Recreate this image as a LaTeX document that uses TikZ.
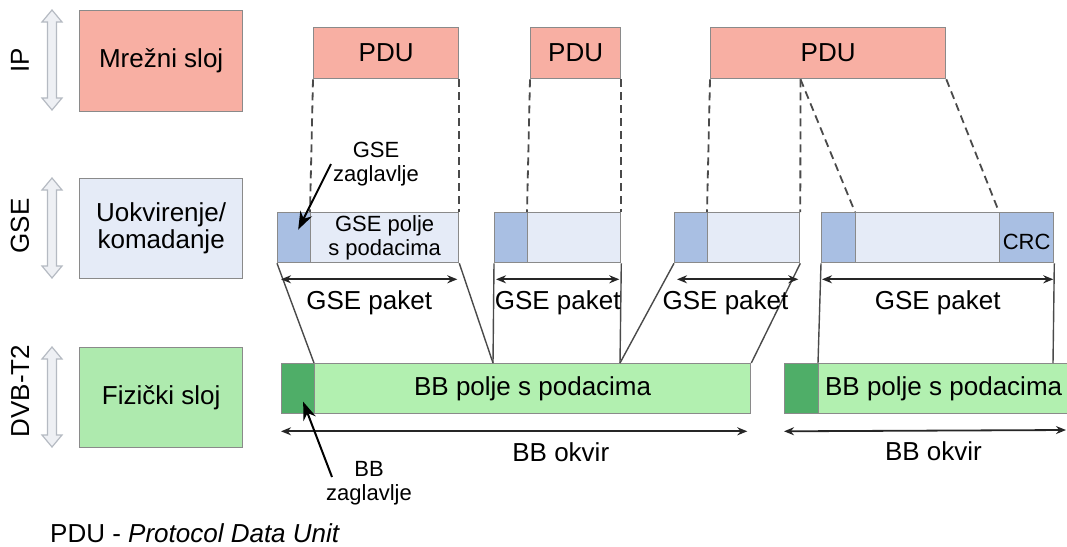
\documentclass[tikz,border=0pt]{standalone}
\usepackage{fontspec}
\setmainfont{Liberation Sans}
\usetikzlibrary{arrows.meta,calc}
\definecolor{edge}{HTML}{8A8A8A}
\definecolor{pduc}{HTML}{F8AFA3}
\definecolor{gsel}{HTML}{E5EBF7}
\definecolor{gseh}{HTML}{A9BFE3}
\definecolor{bbl}{HTML}{B2F0B0}
\definecolor{bbh}{HTML}{4FAE68}
\definecolor{dvbc}{HTML}{AEEAAE}
\definecolor{arrfill}{HTML}{EEF0F4}
\definecolor{arredge}{HTML}{B5BAC2}
\definecolor{link}{HTML}{4A4A4A}
\newcommand{\bigtxt}{\fontsize{26}{27}\selectfont}
\newcommand{\smalltxt}{\fontsize{22}{24}\selectfont}
\tikzset{
  blk/.style={draw=edge, line width=1.3pt, anchor=north west, inner sep=0pt, align=center, font=\bigtxt},
  hdr/.style={blk, fill=gseh, minimum height=50pt},
  fld/.style={blk, fill=gsel, minimum height=50pt, font=\smalltxt},
  bbhd/.style={blk, fill=bbh, minimum height=50pt},
  bbfld/.style={blk, fill=bbl, minimum height=50pt},
  cut/.style={draw=link, line width=1.8pt, dash pattern=on 8pt off 5pt},
  tie/.style={draw=link, line width=1.4pt},
  dim/.style={{Stealth[length=10pt,width=8pt]}-{Stealth[length=10pt,width=8pt]}, line width=1.8pt, draw=black!85},
  callout/.style={-{Stealth[length=18pt,width=13pt]}, line width=2pt},
  note/.style={font=\smalltxt, align=center, inner sep=0pt},
  lbl/.style={font=\bigtxt, inner sep=0pt},
  layarr/.style={draw=arredge, fill=arrfill, line width=1.2pt},
}
\begin{document}
\begin{tikzpicture}[x=1pt, y=-1pt]
  \useasboundingbox (0,0) rectangle (1067,546);
  \fill[white] (0,0) rectangle (1067,546);
  \clip (0,0) rectangle (1067,546);

  % layers on the left
  \foreach \yt/\yb/\ym/\lab in {10/110/60/IP, 178/278/226/GSE, 347/447/391/DVB-T2} {
    \draw[layarr] (52,\yt) -- (62,\yt+12) -- (56.5,\yt+12) -- (56.5,\yb-12) -- (62,\yb-12) -- (52,\yb)
      -- (42,\yb-12) -- (47.5,\yb-12) -- (47.5,\yt+12) -- (42,\yt+12) -- cycle;
    \node[lbl, rotate=90] (l\lab) at (20,\ym) {\lab};
  }
  \node[blk, fill=pduc, minimum width=163pt, minimum height=101pt] (ip) at (79,10) {Mrežni sloj};
  \node[blk, fill=gsel, minimum width=163pt, minimum height=100pt] (gse) at (79,178) {Uokvirenje/\\komadanje};
  \node[blk, fill=dvbc, minimum width=163pt, minimum height=100pt] (dvb) at (79,347) {Fizički sloj};

  % PDUs
  \node[blk, fill=pduc, minimum width=145pt, minimum height=51pt] (p1) at (313,27) {PDU};
  \node[blk, fill=pduc, minimum width=90pt, minimum height=51pt] (p2) at (530,27) {PDU};
  \node[blk, fill=pduc, minimum width=235pt, minimum height=51pt] (p3) at (710,27) {PDU};

  % GSE packets
  \node[hdr, minimum width=33pt] (h1) at (277,212) {};
  \node[fld, minimum width=148pt] (d1) at (310,212) {GSE polje\\s podacima};
  \node[hdr, minimum width=33pt] (h2) at (494,212) {};
  \node[fld, minimum width=93pt] (d2) at (527,212) {};
  \node[hdr, minimum width=33pt] (h3) at (674,212) {};
  \node[fld, minimum width=92pt] (d3) at (707,212) {};
  \node[hdr, minimum width=34pt] (h4) at (821,212) {};
  \node[fld, minimum width=144pt] (d4) at (855,212) {};
  \node[hdr, minimum width=54pt] (crc) at (999,212) {};
  \node[note] (crctxt) at ($(crc.center)+(0,4)$) {CRC};

  % BB frames
  \node[bbhd, minimum width=33pt] (bh1) at (281,363) {};
  \node[bbfld, minimum width=436pt] (bd1) at (314,363) {BB polje s podacima};
  \node[bbhd, minimum width=34pt] (bh2) at (784,363) {};
  \node[bbfld, minimum width=250pt] (bd2) at (818,363) {BB polje s podacima};

  % PDU -> GSE
  \coordinate (cut3) at ($(p3.south west)!0.383!(p3.south east)$);
  \draw[cut] (p1.south west) -- (d1.north west);
  \draw[cut] (p1.south east) -- (d1.north east);
  \draw[cut] (p2.south west) -- (d2.north west);
  \draw[cut] (p2.south east) -- (d2.north east);
  \draw[cut] (p3.south west) -- (d3.north west);
  \draw[cut] (cut3) -- (d3.north east);
  \draw[cut] (cut3) -- (d4.north west);
  \draw[cut] (p3.south east) -- (crc.north west);

  % GSE -> BB
  \coordinate (j1) at (493,363);
  \coordinate (j2) at (620,363);
  \coordinate (j3) at (1053,363);
  \draw[tie] (h1.south west) -- (bd1.north west);
  \draw[tie] (d1.south east) -- (j1);
  \draw[tie] (h2.south west) -- (j1);
  \draw[tie] (d2.south east) -- (j2);
  \draw[tie] (h3.south west) -- (j2);
  \draw[tie] (d3.south east) -- (bd1.north east);
  \draw[tie] (h4.south west) -- (bd2.north west);
  \draw[tie] (crc.south east) -- (j3);

  % sizes
  \draw[dim] ($(h1.south west)+(4,16)$) -- node[lbl, below=10pt] (g1) {GSE paket} ($(d1.south east)+(-2,16)$);
  \draw[dim] ($(h2.south west)+(2,16)$) -- node[lbl, below=10pt] (g2) {GSE paket} ($(d2.south east)+(-2,16)$);
  \draw[dim] ($(h3.south west)+(3,16)$) -- node[lbl, below=10pt, pos=0.4] (g3) {GSE paket} ($(d3.south east)+(-2,16)$);
  \draw[dim] ($(h4.south west)+(1,16)$) -- node[lbl, below=10pt] (g4) {GSE paket} ($(crc.south east)+(-1,16)$);
  \coordinate (e2) at (1066,430);
  \draw[dim] ($(bh1.south west)+(0,17)$) -- node[lbl, below=10pt, pos=0.6] (o1) {BB okvir} ($(bd1.south east)+(-4,17)$);
  \draw[dim] ($(bh2.south west)+(0,17)$) -- node[lbl, below=10pt, pos=0.53] (o2) {BB okvir} (e2);

  % headers
  \node[note] (gzag) at (376,164) {GSE\\zaglavlje};
  \draw[callout, shorten >=9pt] ($(gzag.west)+(-2,0)$) -- (h1.center);
  \node[note] (bzag) at (369,483) {BB\\zaglavlje};
  \draw[callout, shorten >=14pt] ($(bzag.west)+(6,-6)$) -- (bh1.center);

  \node[font=\bigtxt, anchor=base west, inner sep=0pt] (leg) at (50,542) {PDU - \textit{Protocol Data Unit}};
\end{tikzpicture}
\end{document}
